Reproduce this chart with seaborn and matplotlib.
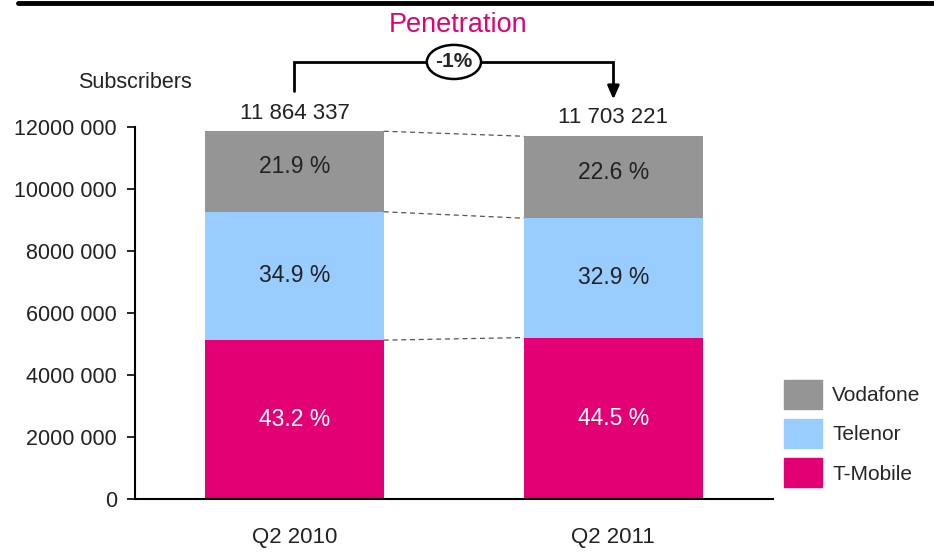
import matplotlib
matplotlib.use("Agg")
import matplotlib.pyplot as plt
import seaborn as sns
import pandas as pd
from matplotlib.patches import Patch, Ellipse
from matplotlib.lines import Line2D

quarters = ["Q2 2010", "Q2 2011"]
totals = [11864337, 11703221]
share_tmobile = [43.2, 44.5]
share_telenor = [34.9, 32.9]
share_vodafone = [21.9, 22.6]
total_labels = ["11 864 337", "11 703 221"]
penetration_change = "-1%"

c_voda = "#959595"
c_tele = "#99ccff"
c_tmo = "#e20074"

sns.set_style("white")
plt.rcParams["font.family"] = ["Liberation Sans", "DejaVu Sans"]

tmo = [t * s / 100 for t, s in zip(totals, share_tmobile)]
tele = [t * s / 100 for t, s in zip(totals, share_telenor)]
cum_tele = [a + b for a, b in zip(tmo, tele)]

df = pd.DataFrame({"quarter": quarters, "total": totals, "tmo": tmo, "cum_tele": cum_tele})

fig = plt.figure(figsize=(9.34, 5.56), dpi=100)
ax = fig.add_axes([0.1445, 0.1025, 0.683, 0.669])

bw = 0.56
sns.barplot(data=df, x="quarter", y="total", color=c_voda, width=bw, saturation=1, linewidth=0, ax=ax)
sns.barplot(data=df, x="quarter", y="cum_tele", color=c_tele, width=bw, saturation=1, linewidth=0, ax=ax)
sns.barplot(data=df, x="quarter", y="tmo", color=c_tmo, width=bw, saturation=1, linewidth=0, ax=ax)

ax.set_xlim(-0.5, 1.5)
ax.set_ylim(0, 12000000)
ax.set_xlabel("")
ax.set_ylabel("")
yt = list(range(0, 12000001, 2000000))
ax.set_yticks(yt)
ax.set_yticklabels(["0" if v == 0 else f"{v // 1000} 000" for v in yt], fontsize=15.5)
ax.tick_params(axis="x", labelsize=16, length=0, pad=20, labelcolor="#222222")
ax.tick_params(axis="y", left=True, length=6, width=1.2, color="black", pad=7, labelcolor="#222222")
sns.despine(ax=ax, top=True, right=True)
for s in ["left", "bottom"]:
    ax.spines[s].set_color("black")
    ax.spines[s].set_linewidth(1.5)

# segment labels
for i in range(2):
    ax.text(i, tmo[i] / 2, f"{share_tmobile[i]} %", ha="center", va="center", fontsize=16.5, color="white")
    ax.text(i, tmo[i] + tele[i] / 2, f"{share_telenor[i]} %", ha="center", va="center", fontsize=16.5, color="#222222")
    ax.text(i, (cum_tele[i] + totals[i]) / 2 + 150000, f"{share_vodafone[i]} %", ha="center", va="center", fontsize=16.5, color="#222222")
    ax.text(i, totals[i] + 250000, total_labels[i], ha="center", va="bottom", fontsize=16, color="#222222")

# dashed connectors
for lvl in [tmo, cum_tele, totals]:
    ax.plot([bw / 2, 1 - bw / 2], [lvl[0], lvl[1]], ls=(0, (4, 3)), color="#555555", lw=0.9)

# penetration bracket
y_top = 12000000 + 2100000
ax.plot([0, 0, 1, 1], [totals[0] + 1300000, y_top, y_top, totals[1] + 1700000],
        color="black", lw=2, clip_on=False, solid_joinstyle="miter")
ax.annotate("", xy=(1, totals[1] + 1100000), xytext=(1, totals[1] + 1750000),
            arrowprops=dict(arrowstyle="-|>,head_width=0.35,head_length=0.8", color="black", lw=2),
            annotation_clip=False)
ax.add_patch(Ellipse((0.5, y_top), 0.17, 1100000, facecolor="white", edgecolor="black", lw=1.8, clip_on=False, zorder=5))
ax.text(0.5, y_top, penetration_change, ha="center", va="center", fontsize=15, fontweight="bold", zorder=6)
fig.text(458 / 934, 1 - 25 / 556, "Penetration", ha="center", va="center", fontsize=19.5, color=c_tmo)
fig.text(135 / 934, 1 - 83 / 556, "Subscribers", ha="center", va="center", fontsize=15.5, color="#222222")

# top rule
fig.add_artist(Line2D([18 / 934, 1], [1 - 3 / 556, 1 - 3 / 556], color="black", lw=3.5))

handles = [Patch(color=c_voda, label="Vodafone"), Patch(color=c_tele, label="Telenor"), Patch(color=c_tmo, label="T-Mobile")]
fig.legend(handles=handles, loc="lower left", bbox_to_anchor=(765 / 934, 1 - 506 / 556), frameon=False,
           fontsize=15, handlelength=1.83, handleheight=1.75, labelspacing=0.5, handletextpad=0.5)

fig.savefig("out.png", dpi=100)
